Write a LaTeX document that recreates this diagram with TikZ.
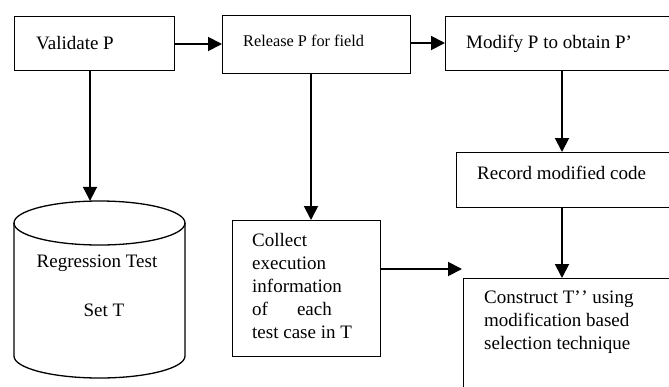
\documentclass[tikz,border=0pt]{standalone}
\usepackage{fontspec}
\setmainfont{Liberation Serif}
\usetikzlibrary{arrows.meta,calc}
\begin{document}
\begin{tikzpicture}[x=1pt,y=-1pt,
  box/.style={draw,line width=1.3pt,rectangle,inner sep=0pt,anchor=north west},
  txt/.style={inner sep=0pt,font=\fontsize{19}{23}\selectfont,align=left},
  smalltxt/.style={inner sep=0pt,font=\fontsize{16.3}{20}\selectfont},
  arr/.style={line width=1.9pt,-{Triangle[length=14pt,width=14pt]}},
  cylline/.style={line width=1.3pt}]
\path[use as bounding box] (0,0) rectangle (669,386);
\clip (0,0) rectangle (669,386);
% boxes
\node[box,minimum width=160pt,minimum height=54pt] (b1) at (14,16) {};
\node[box,minimum width=188pt,minimum height=58pt] (b2) at (222,15) {};
\node[box,minimum width=245pt,minimum height=54pt] (b3) at (445,16) {};
\node[box,minimum width=235pt,minimum height=55pt] (rec) at (456,152) {};
\node[box,minimum width=148pt,minimum height=136pt] (col) at (232,220) {};
\node[box,minimum width=230pt,minimum height=130pt] (con) at (463,278) {};
% texts
\node[txt,anchor=base west] (t1) at (36,49) {Validate P};
\node[smalltxt,anchor=base west] (t2) at (243,46) {Release P for field};
\node[txt,anchor=base west] (t3) at (466,48) {Modify P to obtain P’};
\node[txt,anchor=base west] (t4) at (477,179) {Record modified code};
\node[txt,anchor=north west] (t5) at (252,233) {Collect\\execution\\information\\of\hspace{29pt}each\\test case in T};
\node[txt,anchor=north west] (t6) at (484,291) {Construct T’\kern0.5pt’ using\\modification based\\selection technique};
% cylinder
\draw[cylline] (14,223) -- (14,356) arc[start angle=180,end angle=360,x radius=85.5pt,y radius=22pt] -- (185,223);
\draw[cylline] (99.5,223) ellipse [x radius=85.5pt,y radius=22pt];
\node[inner sep=0pt,minimum width=171pt,minimum height=177pt] (cyl) at (99.5,289.5) {};
\node[txt,anchor=base] (t7) at (97,267) {Regression Test};
\node[txt,anchor=base] (t8) at (104,316) {Set T};
% connector guides
\coordinate (xa) at (90,0);
\coordinate (xb) at (311,0);
\coordinate (xc) at (562,0);
\coordinate (endc) at (462,269);
% connectors
\draw[arr] (b1.east |- 0,44) -- (b2.west |- 0,44);
\draw[arr] (b2.east |- 0,43) -- (b3.west |- 0,43);
\draw[arr] (b1.south -| xa) -- (cyl.north -| xa);
\draw[arr] (b2.south -| xb) -- (col.north -| xb);
\draw[arr] (b3.south -| xc) -- (rec.north -| xc);
\draw[arr] (rec.south -| xc) -- (con.north -| xc);
\draw[arr] (col.east |- endc) -- (endc);
\end{tikzpicture}
\end{document}
